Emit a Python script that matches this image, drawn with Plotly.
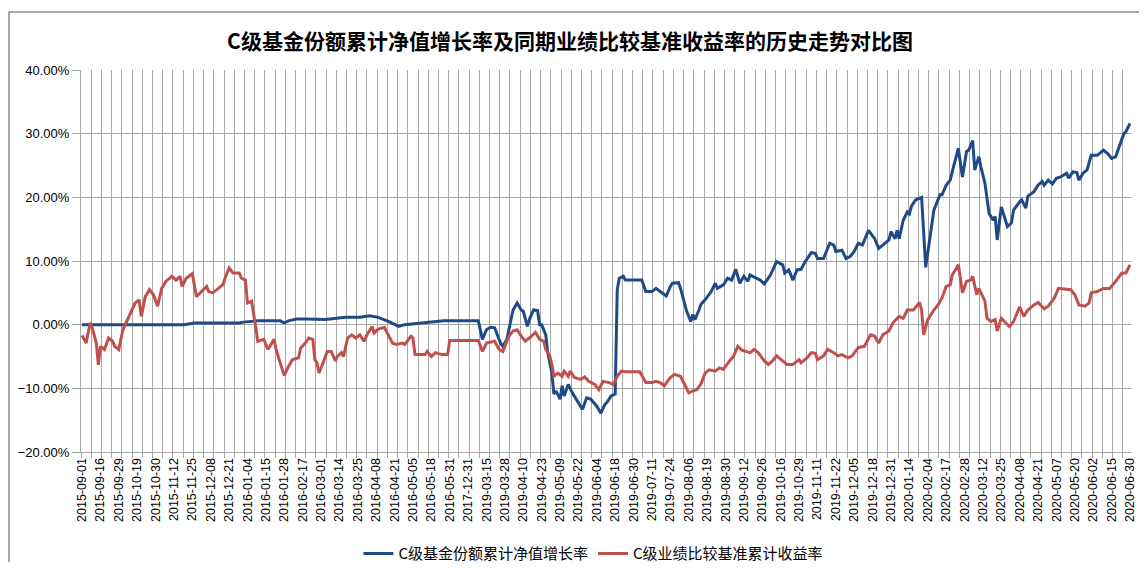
import plotly.graph_objects as go

# Category tick labels (one every 9 trading days)
tick_labels = [
    "2015-09-01", "2015-09-16", "2015-09-29", "2015-10-19", "2015-10-30", "2015-11-12",
    "2015-11-25", "2015-12-08", "2015-12-21", "2016-01-04", "2016-01-15", "2016-01-28",
    "2016-02-17", "2016-03-01", "2016-03-14", "2016-03-25", "2016-04-08", "2016-04-21",
    "2016-05-05", "2016-05-18", "2016-05-31", "2017-12-31", "2019-03-15", "2019-03-28",
    "2019-04-10", "2019-04-23", "2019-05-09", "2019-05-22", "2019-06-04", "2019-06-18",
    "2019-06-30", "2019-07-11", "2019-07-24", "2019-08-06", "2019-08-19", "2019-08-30",
    "2019-09-12", "2019-09-26", "2019-10-16", "2019-10-29", "2019-11-11", "2019-11-22",
    "2019-12-05", "2019-12-18", "2019-12-31", "2020-01-14", "2020-02-04", "2020-02-17",
    "2020-02-28", "2020-03-12", "2020-03-25", "2020-04-08", "2020-04-21", "2020-05-07",
    "2020-05-20", "2020-06-02", "2020-06-15", "2020-06-30",
]
label_step = 9
n_points = 514

# C级基金份额累计净值增长率 (%) : trading-day index -> value
fund_idx = [0, 50, 55, 77, 79, 86, 97, 99, 101, 105, 110, 119, 129, 136, 141, 145, 150, 155, 158,
            165, 177, 194, 195, 196, 198, 200, 202, 203, 205, 206, 208, 210, 211, 213, 215, 216,
            218, 219, 221, 223, 224, 225, 227, 228, 230, 231, 232, 234, 235, 236, 238, 240, 242,
            244, 245, 247, 249, 252, 254, 256, 257, 259, 261, 262, 263, 265, 266, 274, 276, 279,
            281, 283, 286, 288, 289, 292, 293, 296, 298, 299, 300, 302, 303, 305, 308, 310, 311,
            314, 316, 318, 320, 322, 324, 326, 327, 330, 332, 334, 337, 340, 343, 344, 346, 348,
            350, 352, 354, 357, 359, 360, 363, 366, 368, 369, 372, 374, 376, 378, 380, 382, 385,
            388, 390, 392, 395, 396, 398, 399, 400, 402, 404, 405, 406, 408, 411, 413, 414, 416,
            417, 420, 421, 423, 425, 427, 429, 430, 431, 433, 434, 436, 437, 439, 440, 442, 444,
            446, 447, 448, 450, 451, 453, 455, 456, 459, 460, 462, 463, 466, 468, 470, 471, 473,
            475, 477, 479, 482, 483, 485, 487, 488, 490, 492, 494, 497, 500, 502, 504, 506, 508,
            510, 511, 513]
fund_val = [0.0, 0.0, 0.26, 0.26, 0.4, 0.6, 0.6, 0.3, 0.6, 0.9, 0.9, 0.8, 1.15, 1.15, 1.4, 1.15,
            0.5, -0.26, 0.0, 0.26, 0.6, 0.6, -0.8, -2.3, -0.8, -0.4, -0.5, -1.3, -3.0, -3.4, -2.3,
            0.8, 2.3, 3.4, 2.3, 2.1, -0.26, 0.8, 2.3, 2.2, 0.0, 0.0, -1.6, -4.4, -7.6, -10.9,
            -10.4, -11.7, -9.6, -11.2, -9.4, -10.7, -11.7, -12.8, -13.3, -11.5, -11.7, -12.8,
            -13.9, -12.5, -12.2, -11.2, -10.9, 5.5, 7.3, 7.6, 7.0, 7.0, 5.2, 5.2, 5.7, 5.2, 4.5,
            6.0, 6.5, 6.6, 5.7, 2.1, 0.5, 1.6, 0.8, 2.3, 3.2, 3.9, 5.2, 6.5, 5.7, 6.25, 7.3, 7.0,
            8.7, 6.5, 7.6, 6.8, 7.8, 7.3, 7.0, 6.4, 7.8, 9.9, 9.4, 8.1, 8.6, 7.0, 8.6, 8.7, 9.9,
            11.3, 11.2, 10.4, 10.4, 12.8, 12.5, 11.5, 11.7, 10.4, 10.7, 11.5, 12.8, 12.5, 14.8,
            13.5, 12.0, 12.5, 13.3, 14.6, 13.5, 14.8, 13.5, 16.4, 17.7, 17.4, 18.6, 19.6, 20.0,
            9.0, 11.2, 15.4, 18.0, 20.4, 20.4, 21.9, 22.7, 25.3, 27.7, 25.3, 23.2, 27.2, 27.4,
            28.9, 24.3, 26.4, 24.8, 22.2, 17.5, 16.4, 17.0, 13.3, 18.5, 17.5, 15.4, 16.0, 18.0,
            19.3, 19.6, 18.3, 20.2, 20.9, 21.9, 22.5, 21.9, 22.7, 22.1, 23.0, 23.2, 23.8, 23.0,
            24.0, 23.9, 22.7, 23.8, 24.3, 26.6, 26.6, 27.4, 26.9, 26.1, 26.4, 28.2, 30.0, 30.3,
            31.6]

# C级业绩比较基准累计收益率 (%)
bench_idx = [0, 2, 4, 5, 7, 8, 9, 11, 13, 15, 16, 18, 20, 23, 24, 26, 28, 29, 31, 33, 35, 37,
             39, 41, 44, 46, 48, 49, 51, 54, 56, 58, 61, 62, 64, 66, 69, 70, 72, 74, 77, 78, 80,
             81, 83, 85, 86, 89, 91, 94, 95, 97, 99, 101, 103, 106, 107, 110, 111, 113, 114, 115,
             116, 118, 120, 122, 124, 125, 127, 128, 130, 132, 134, 136, 138, 140, 142, 143, 145,
             148, 149, 152, 154, 157, 158, 161, 162, 163, 168, 169, 171, 173, 176, 179, 180, 194,
             196, 198, 202, 204, 206, 209, 211, 213, 215, 217, 219, 221, 222, 224, 226, 227, 229,
             230, 231, 233, 235, 236, 238, 239, 241, 244, 246, 248, 251, 253, 255, 258, 260, 262,
             264, 266, 273, 276, 279, 281, 283, 285, 288, 290, 293, 295, 297, 299, 301, 303, 305,
             307, 310, 312, 314, 317, 319, 321, 323, 325, 327, 329, 331, 334, 336, 338, 340, 343,
             345, 348, 351, 352, 355, 357, 359, 360, 363, 365, 368, 370, 372, 375, 377, 380, 383,
             386, 388, 390, 392, 395, 397, 400, 402, 404, 407, 410, 411, 412, 414, 417, 419, 421,
             423, 425, 426, 429, 430, 431, 433, 435, 436, 438, 439, 442, 443, 445, 447, 448, 450,
             452, 454, 456, 458, 459, 461, 463, 466, 468, 471, 473, 476, 478, 481, 484, 486, 488,
             491, 493, 494, 497, 500, 503, 506, 509, 511, 513]
bench_val = [-1.7, -2.9, 0.3, -0.5, -2.9, -6.3, -3.4, -3.9, -2.1, -2.6, -3.4, -3.9, -0.8, 1.3,
             1.8, 3.4, 3.9, 1.3, 4.4, 5.5, 4.7, 2.9, 5.7, 6.8, 7.6, 7.0, 7.6, 6.0, 7.3, 8.0, 4.4,
             5.0, 6.0, 5.2, 5.0, 5.5, 6.3, 7.3, 8.9, 8.1, 8.1, 7.3, 7.0, 3.4, 3.7, -0.3, -2.6,
             -2.3, -3.9, -2.3, -3.9, -6.0, -8.0, -6.6, -5.5, -5.2, -3.7, -2.6, -2.1, -2.3, -5.5,
             -6.0, -7.6, -6.0, -4.2, -4.2, -5.7, -5.0, -4.4, -5.0, -2.1, -1.6, -2.1, -1.6, -2.6,
             -1.3, -0.3, -1.3, -0.7, -0.4, -1.0, -2.9, -3.1, -2.9, -3.1, -1.8, -2.1, -4.7, -4.7,
             -4.2, -5.0, -4.4, -4.7, -4.7, -2.5, -2.5, -4.2, -2.9, -2.6, -3.8, -4.2, -1.8, -1.0,
             -0.8, -1.8, -2.6, -2.1, -1.6, -1.2, -2.3, -2.6, -3.9, -4.9, -6.3, -8.1, -7.6, -8.1,
             -7.3, -8.1, -7.3, -8.3, -8.6, -8.2, -8.9, -9.4, -10.2, -8.9, -9.1, -9.4, -8.1, -7.3,
             -7.4, -7.4, -9.1, -9.1, -8.9, -9.1, -9.6, -8.3, -7.8, -8.1, -9.4, -10.7, -10.4,
             -10.2, -9.3, -7.6, -7.1, -7.3, -6.8, -7.0, -5.7, -4.9, -3.4, -4.0, -4.2, -4.4, -3.9,
             -4.4, -5.7, -6.25, -5.7, -4.9, -5.7, -6.25, -6.25, -5.5, -6.0, -5.2, -4.4, -4.5,
             -5.5, -4.9, -3.9, -4.4, -4.9, -4.7, -5.2, -4.9, -3.6, -3.4, -1.6, -1.8, -2.9, -1.6,
             -1.0, 0.3, 1.3, 1.0, 2.3, 2.3, 3.5, 2.3, -1.6, 0.8, 2.3, 3.1, 4.2, 6.0, 6.25, 7.8,
             9.4, 7.0, 5.0, 6.8, 7.0, 7.6, 4.7, 5.7, 3.7, 1.0, 0.5, 0.8, -1.0, 1.0, 0.4, -0.3,
             0.5, 2.1, 2.8, 1.3, 2.3, 3.1, 3.5, 2.5, 2.9, 4.2, 5.7, 5.6, 5.5, 4.7, 3.1, 2.9, 3.4,
             5.0, 5.2, 5.7, 5.7, 6.8, 8.1, 8.1, 9.4]

series_names = ["C级基金份额累计净值增长率", "C级业绩比较基准累计收益率"]
series_colors = ["#1F4A86", "#C0504D"]
title_text = "C级基金份额累计净值增长率及同期业绩比较基准收益率的历史走势对比图"

# The page body adds an 8px margin on every side; size the figure so the page
# does not overflow the 1147x570 window (no scrollbars).
OFF = 8
W, H = 1147 - 2 * OFF, 570 - 2 * OFF
L, T = 81 - OFF, 70 - OFF
R = 8
B = H - (452 - OFF)
PW, PH = W - L - R, H - T - B

fig = go.Figure()
fig.add_trace(go.Scatter(x=fund_idx, y=fund_val, mode="lines", name=series_names[0],
                         line=dict(color=series_colors[0], width=3)))
fig.add_trace(go.Scatter(x=bench_idx, y=bench_val, mode="lines", name=series_names[1],
                         line=dict(color=series_colors[1], width=3)))

grid_col = "#A6A6A6"
tick_font = dict(family="Liberation Sans, Arial, sans-serif", size=13, color="#000000")

fig.update_layout(
    width=W, height=H,
    margin=dict(l=L, r=R, t=T, b=B, autoexpand=False),
    paper_bgcolor="white", plot_bgcolor="white",
    title=dict(text="<b>" + title_text + "</b>", x=(570 - OFF) / W, xref="container",
               xanchor="center", y=1 - (42 - OFF) / H, yref="container", yanchor="middle",
               font=dict(family="Noto Sans CJK SC", size=21, color="#000000")),
    showlegend=True,
    legend=dict(orientation="h", x=0.488, xanchor="center", y=-0.223, yanchor="top",
                font=dict(family="Noto Sans CJK SC", size=15, color="#000000"),
                bgcolor="rgba(0,0,0,0)", itemwidth=30),
    xaxis=dict(
        automargin=False,
        range=[-0.5, n_points - 0.5],
        tickmode="array",
        tickvals=[label_step * k for k in range(len(tick_labels))],
        ticktext=tick_labels,
        tickangle=-90,
        ticklabeloverflow="allow",
        tickfont=dict(family="Liberation Sans, Arial, sans-serif", size=12.5, color="#000000"),
        ticks="",
        showgrid=False,
        zeroline=False,
        showline=True, linecolor=grid_col, linewidth=1,
        minor=dict(tickmode="linear", tick0=-0.5, dtick=5, showgrid=True,
                   gridcolor=grid_col, gridwidth=1, ticks="outside", ticklen=5,
                   tickcolor=grid_col, tickwidth=1),
    ),
    yaxis=dict(
        automargin=False,
        range=[-20, 40],
        tickmode="linear", tick0=-20, dtick=10,
        tickformat=".2f", ticksuffix="%",
        tickfont=tick_font,
        showgrid=True, gridcolor=grid_col, gridwidth=1,
        zeroline=False,
        showline=True, linecolor=grid_col, linewidth=1,
        ticks="outside", ticklen=8, tickcolor=grid_col,
    ),
    shapes=[
        dict(type="rect", xref="paper", yref="paper",
             x0=-(L - 1) / PW, x1=1 + (R + 20) / PW,
             y0=-(B + 20) / PH, y1=1 + (T - (12 - OFF)) / PH,
             line=dict(color="#8C8C8C", width=1.5), fillcolor="rgba(0,0,0,0)"),
    ],
)

fig.write_html("out.html")
